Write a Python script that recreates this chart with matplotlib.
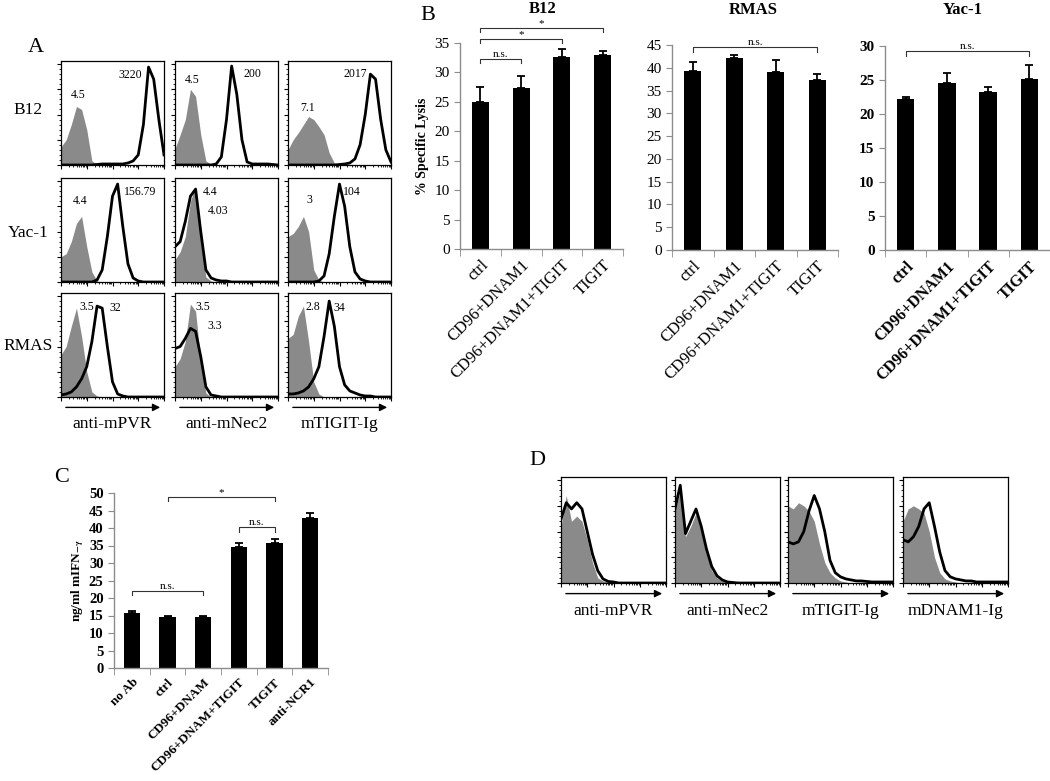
import numpy as np
import matplotlib
matplotlib.use("Agg")
import matplotlib.pyplot as plt
from matplotlib.ticker import MultipleLocator, FixedLocator, NullFormatter

plt.rcParams['font.family'] = ['Liberation Serif', 'DejaVu Serif']
plt.rcParams['mathtext.fontset'] = 'stix'

W, H = 1050, 781

# ---------------- data ----------------
# histogram bins, log10 fluorescence (0..4 decades, 0.2 steps)
decades = [0.0, 0.2, 0.4, 0.6, 0.8, 1.0, 1.2, 1.4, 1.6, 1.8, 2.0,
           2.2, 2.4, 2.6, 2.8, 3.0, 3.2, 3.4, 3.6, 3.8, 4.0]

# panel A, grey = isotype, black = stain (fraction of max)
b12_pvr_iso = [0.18, 0.25, 0.40, 0.58, 0.55, 0.35, 0.04, 0.01, 0, 0, 0, 0, 0, 0, 0, 0, 0, 0, 0, 0, 0]
b12_pvr_stain = [0, 0, 0, 0, 0, 0, 0, 0.005, 0.01, 0.01, 0.01, 0.01, 0.01, 0.02, 0.04, 0.10, 0.40, 0.97, 0.85, 0.45, 0.10]
b12_nec_iso = [0.16, 0.30, 0.45, 0.75, 0.68, 0.30, 0.04, 0.01, 0, 0, 0, 0, 0, 0, 0, 0, 0, 0, 0, 0, 0]
b12_nec_stain = [0, 0, 0, 0, 0, 0, 0, 0, 0.01, 0.08, 0.45, 0.98, 0.70, 0.25, 0.03, 0.01, 0.01, 0.01, 0.01, 0.005, 0]
b12_tig_iso = [0.15, 0.25, 0.32, 0.40, 0.48, 0.45, 0.38, 0.30, 0.12, 0.02, 0.01, 0, 0, 0, 0, 0, 0, 0, 0, 0, 0]
b12_tig_stain = [0, 0, 0, 0, 0, 0, 0, 0, 0, 0, 0.005, 0.01, 0.02, 0.06, 0.20, 0.50, 0.90, 0.85, 0.45, 0.15, 0.03]

yac_pvr_iso = [0.25, 0.28, 0.40, 0.58, 0.65, 0.35, 0.10, 0.01, 0, 0, 0, 0, 0, 0, 0, 0, 0, 0, 0, 0, 0]
yac_pvr_stain = [0, 0, 0, 0, 0, 0, 0, 0.02, 0.12, 0.45, 0.85, 0.97, 0.55, 0.18, 0.04, 0.01, 0, 0, 0, 0, 0]
yac_nec_iso = [0.22, 0.30, 0.45, 0.80, 0.95, 0.40, 0.05, 0.01, 0, 0, 0, 0, 0, 0, 0, 0, 0, 0, 0, 0, 0]
yac_nec_stain = [0.35, 0.40, 0.60, 0.85, 0.92, 0.50, 0.12, 0.04, 0.02, 0.01, 0.01, 0, 0, 0, 0, 0, 0, 0, 0, 0, 0]
yac_tig_iso = [0.45, 0.48, 0.55, 0.65, 0.50, 0.12, 0.02, 0, 0, 0, 0, 0, 0, 0, 0, 0, 0, 0, 0, 0, 0]
yac_tig_stain = [0, 0, 0, 0, 0, 0, 0.01, 0.06, 0.28, 0.65, 0.97, 0.75, 0.35, 0.10, 0.03, 0.01, 0, 0, 0, 0, 0]

rmas_pvr_iso = [0.42, 0.50, 0.70, 0.88, 0.60, 0.25, 0.05, 0.01, 0, 0, 0, 0, 0, 0, 0, 0, 0, 0, 0, 0, 0]
rmas_pvr_stain = [0.02, 0.03, 0.05, 0.10, 0.18, 0.30, 0.55, 0.90, 0.88, 0.50, 0.15, 0.03, 0.01, 0, 0, 0, 0, 0, 0, 0, 0]
rmas_nec_iso = [0.30, 0.38, 0.55, 0.92, 0.85, 0.35, 0.04, 0, 0, 0, 0, 0, 0, 0, 0, 0, 0, 0, 0, 0, 0]
rmas_nec_stain = [0.48, 0.50, 0.58, 0.68, 0.65, 0.40, 0.10, 0.02, 0.01, 0, 0, 0, 0, 0, 0, 0, 0, 0, 0, 0, 0]
rmas_tig_iso = [0.58, 0.62, 0.80, 0.90, 0.55, 0.15, 0.03, 0, 0, 0, 0, 0, 0, 0, 0, 0, 0, 0, 0, 0, 0]
rmas_tig_stain = [0.03, 0.03, 0.04, 0.06, 0.10, 0.18, 0.30, 0.60, 0.95, 0.70, 0.30, 0.12, 0.06, 0.04, 0.02, 0.01, 0.01, 0, 0, 0, 0]

row_names = ["B12", "Yac-1", "RMAS"]
a_xlabels = ["anti-mPVR", "anti-mNec2", "mTIGIT-Ig"]
a_iso = [[b12_pvr_iso, b12_nec_iso, b12_tig_iso],
         [yac_pvr_iso, yac_nec_iso, yac_tig_iso],
         [rmas_pvr_iso, rmas_nec_iso, rmas_tig_iso]]
a_stain = [[b12_pvr_stain, b12_nec_stain, b12_tig_stain],
           [yac_pvr_stain, yac_nec_stain, yac_tig_stain],
           [rmas_pvr_stain, rmas_nec_stain, rmas_tig_stain]]
# MFI numbers (isotype, stain)
a_mfi = [[("4.5", "3220"), ("4.5", "200"), ("7.1", "2017")],
         [("4.4", "156.79"), ("4.4", "4.03"), ("3", "104")],
         [("3.5", "32"), ("3.5", "3.3"), ("2.8", "34")]]

# panel B, % specific lysis
b_groups = ["ctrl", "CD96+DNAM1", "CD96+DNAM1+TIGIT", "TIGIT"]
b12_lysis = [24.9, 27.4, 32.6, 32.9]
b12_err = [2.7, 2.0, 1.3, 0.7]
rmas_lysis = [39.2, 42.1, 39.1, 37.3]
rmas_err = [2.1, 0.8, 2.5, 1.3]
yac_lysis = [22.2, 24.5, 23.2, 25.1]
yac_err = [0.25, 1.5, 0.7, 2.1]

# panel C, IFN-gamma
c_groups = ["no Ab", "ctrl", "CD96+DNAM", "CD96+DNAM+TIGIT", "TIGIT", "anti-NCR1"]
c_ifn = [15.7, 14.5, 14.7, 34.5, 35.7, 43.0]
c_err = [0.6, 0.3, 0.3, 1.1, 1.1, 1.3]

# panel D histograms
d_pvr_iso = [0.55, 0.85, 0.60, 0.65, 0.60, 0.42, 0.20, 0.05, 0.02, 0.01, 0, 0, 0, 0, 0, 0, 0, 0, 0, 0, 0]
d_pvr_stain = [0.62, 0.78, 0.72, 0.78, 0.72, 0.50, 0.28, 0.12, 0.04, 0.015, 0.01, 0, 0, 0, 0, 0, 0, 0, 0, 0, 0]
d_nec_iso = [0.70, 0.90, 0.45, 0.55, 0.68, 0.50, 0.30, 0.12, 0.05, 0.02, 0.01, 0, 0, 0, 0, 0, 0, 0, 0, 0, 0]
d_nec_stain = [0.72, 0.95, 0.48, 0.60, 0.72, 0.55, 0.33, 0.16, 0.07, 0.03, 0.01, 0.005, 0, 0, 0, 0, 0, 0, 0, 0, 0]
d_tig_iso = [0.75, 0.72, 0.78, 0.75, 0.70, 0.60, 0.38, 0.20, 0.10, 0.05, 0.02, 0.01, 0, 0, 0, 0, 0, 0, 0, 0, 0]
d_tig_stain = [0.40, 0.38, 0.40, 0.50, 0.70, 0.85, 0.72, 0.50, 0.22, 0.10, 0.06, 0.04, 0.03, 0.02, 0.02, 0.015, 0.01, 0.01, 0.01, 0.01, 0.01]
d_dnam_iso = [0.60, 0.72, 0.75, 0.72, 0.68, 0.50, 0.25, 0.10, 0.04, 0.02, 0.01, 0, 0, 0, 0, 0, 0, 0, 0, 0, 0]
d_dnam_stain = [0.42, 0.40, 0.45, 0.55, 0.72, 0.78, 0.55, 0.30, 0.12, 0.06, 0.04, 0.03, 0.02, 0.02, 0.01, 0.01, 0.01, 0.01, 0.01, 0.01, 0.01]
d_xlabels = ["anti-mPVR", "anti-mNec2", "mTIGIT-Ig", "mDNAM1-Ig"]
d_iso = [d_pvr_iso, d_nec_iso, d_tig_iso, d_dnam_iso]
d_stain = [d_pvr_stain, d_nec_stain, d_tig_stain, d_dnam_stain]

GREY = "#8a8a8a"
AXGREY = "#8c8c8c"


def px_box(left, top, width, height):
    return [left / W, 1 - (top + height) / H, width / W, height / H]


def fig_text(fig, x, y, s, **kw):
    fig.text(x / W, 1 - y / H, s, **kw)


def histo(ax, iso, stain, xlabel=None):
    # plot on linear decade axis so the log-style ticks can be placed directly
    x = np.array(decades)
    ax.fill_between(x, 0, iso, color=GREY, lw=0)
    ax.plot(x, stain, color="k", lw=2.0)
    ax.set_xlim(0, 4)
    ax.set_ylim(0, 1.03)
    majors = [0, 1, 2, 3, 4]
    minors = [d + np.log10(k) for d in range(4) for k in range(2, 10)]
    ax.xaxis.set_major_locator(FixedLocator(majors))
    ax.xaxis.set_minor_locator(FixedLocator(minors))
    ax.xaxis.set_major_formatter(NullFormatter())
    ax.yaxis.set_major_locator(MultipleLocator(0.25))
    ax.yaxis.set_minor_locator(MultipleLocator(0.05))
    ax.yaxis.set_major_formatter(NullFormatter())
    ax.tick_params(which="major", direction="out", length=3, width=0.8)
    ax.tick_params(which="minor", direction="out", length=1.6, width=0.6)
    ax.tick_params(top=False, right=False)
    for sp in ax.spines.values():
        sp.set_linewidth(0.9)
    if xlabel:
        ax.annotate("", xy=(0.99, -0.1), xytext=(0.02, -0.1), xycoords="axes fraction",
                    arrowprops=dict(arrowstyle="-|>", color="k", lw=1, mutation_scale=11))
        ax.text(0.5, -0.26, xlabel, transform=ax.transAxes, ha="center", va="center",
                fontsize=12.5)


def bracket(ax, x1, x2, y, drop, text, fs=8):
    ax.plot([x1, x1, x2, x2], [y - drop, y, y, y - drop], color="#333333", lw=0.8, clip_on=False)
    ax.text((x1 + x2) / 2, y, text, ha="center", va="bottom", fontsize=fs, clip_on=False)


def bar_panel(ax, groups, vals, errs, ymax, ystep, bold=False, width=0.42, fs=11, tfs=11):
    x = np.arange(len(groups))
    ax.bar(x, vals, width=width, color="k",
           yerr=[np.zeros(len(errs)), errs],
           error_kw=dict(ecolor="k", capsize=3, elinewidth=1.3, capthick=1.3))
    ax.set_xlim(-0.5, len(groups) - 0.5)
    ax.set_ylim(0, ymax)
    ax.yaxis.set_major_locator(MultipleLocator(ystep))
    ax.set_xticks(x)
    ax.set_xticks(np.arange(len(groups) + 1) - 0.5, minor=True)
    ax.set_xticklabels(groups, rotation=45, ha="right", rotation_mode="anchor",
                       fontsize=fs, fontweight="bold" if bold else "normal")
    for lab in ax.get_yticklabels():
        lab.set_fontsize(tfs)
        if bold:
            lab.set_fontweight("bold")
    ax.tick_params(axis="x", which="major", length=0, pad=6)
    ax.tick_params(axis="x", which="minor", length=5, color=AXGREY, direction="out")
    ax.tick_params(axis="y", length=4, color=AXGREY, direction="out")
    for s in ["top", "right"]:
        ax.spines[s].set_visible(False)
    for s in ["left", "bottom"]:
        ax.spines[s].set_color(AXGREY)
        ax.spines[s].set_linewidth(1)


fig = plt.figure(figsize=(W / 100, H / 100), dpi=100)

# ---------------- panel A ----------------
a_lefts = [61, 175, 288]
a_tops = [61, 178, 293]
a_mfi_pos = [[((0.165, 0.67), (0.67, 0.87)), ((0.165, 0.82), (0.75, 0.875)), ((0.19, 0.55), (0.65, 0.875))],
             [((0.185, 0.78), (0.77, 0.87)), ((0.34, 0.87), (0.42, 0.68)), ((0.21, 0.79), (0.62, 0.87))],
             [((0.25, 0.87), (0.53, 0.86)), ((0.27, 0.87), (0.39, 0.68)), ((0.24, 0.87), (0.50, 0.86))]]
for r in range(3):
    for c in range(3):
        ax = fig.add_axes(px_box(a_lefts[c], a_tops[r], 103, 104))
        histo(ax, a_iso[r][c], a_stain[r][c], a_xlabels[c] if r == 2 else None)
        for s, (tx, ty) in zip(a_mfi[r][c], a_mfi_pos[r][c]):
            ax.text(tx, ty, s, transform=ax.transAxes, ha="center", va="center", fontsize=8.5)
for name, y in zip(row_names, [110, 233, 346]):
    fig_text(fig, 28, y, name, ha="center", va="center", fontsize=12.5)
fig_text(fig, 36, 47, "A", ha="center", va="center", fontsize=16)

# ---------------- panel B ----------------
ax_b12 = fig.add_axes(px_box(460, 43, 163, 206))
bar_panel(ax_b12, b_groups, b12_lysis, b12_err, 35, 5, fs=12)
ax_b12.set_ylabel("% Specific Lysis", fontsize=10, fontweight="bold", labelpad=4)
bracket(ax_b12, 0, 1, 32.3, 0.7, "n.s.")
bracket(ax_b12, 0, 2, 35.7, 0.7, "*")
bracket(ax_b12, 0, 3, 37.5, 0.7, "*")

ax_rmas = fig.add_axes(px_box(672, 45, 166, 205))
bar_panel(ax_rmas, b_groups, rmas_lysis, rmas_err, 45, 5, fs=12)
bracket(ax_rmas, 0, 3, 44.5, 1.0, "n.s.")

ax_yac = fig.add_axes(px_box(885, 46, 165, 204))
bar_panel(ax_yac, b_groups, yac_lysis, yac_err, 30, 5, bold=True, fs=11.5)
bracket(ax_yac, 0, 3, 29.2, 0.7, "n.s.")

fig_text(fig, 543, 9, "B12", ha="center", va="center", fontsize=12, fontweight="bold")
fig_text(fig, 753, 10, "RMAS", ha="center", va="center", fontsize=12, fontweight="bold")
fig_text(fig, 963, 10, "Yac-1", ha="center", va="center", fontsize=12, fontweight="bold")
fig_text(fig, 428, 15, "B", ha="center", va="center", fontsize=16)

# ---------------- panel C ----------------
ax_c = fig.add_axes(px_box(114, 493, 214, 175))
bar_panel(ax_c, c_groups, c_ifn, c_err, 50, 5, bold=True, width=0.45, fs=9.5, tfs=10.5)
ax_c.set_ylabel(r"ng/ml mIFN$_{\mathbf{-\gamma}}$", fontsize=9.5, fontweight="bold", labelpad=2)
bracket(ax_c, 0, 2, 22.0, 1.2, "n.s.")
bracket(ax_c, 1, 4, 48.8, 1.2, "*")
bracket(ax_c, 3, 4, 40.3, 1.3, "n.s.")
fig_text(fig, 62, 478, "C", ha="center", va="center", fontsize=16)

# ---------------- panel D ----------------
d_lefts = [561, 675, 788, 903]
for i in range(4):
    ax = fig.add_axes(px_box(d_lefts[i], 477, 105, 106))
    histo(ax, d_iso[i], d_stain[i], d_xlabels[i])
fig_text(fig, 537, 460, "D", ha="center", va="center", fontsize=16)

fig.savefig("out.png", dpi=100)
